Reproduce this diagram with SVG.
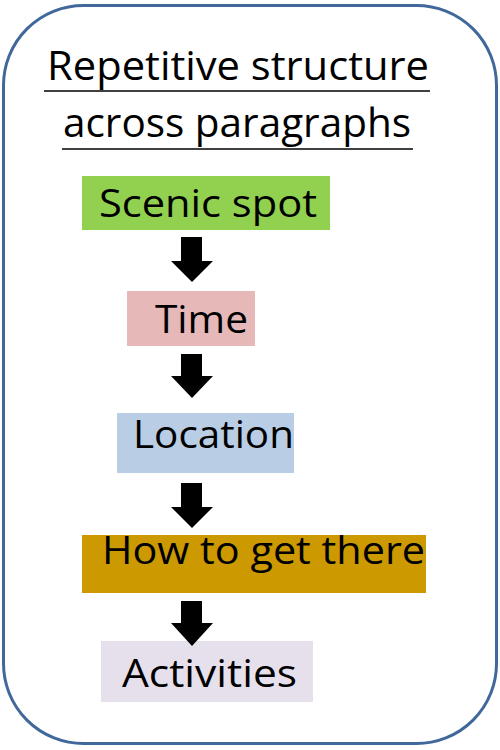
<svg xmlns="http://www.w3.org/2000/svg" width="500" height="750" viewBox="0 0 500 750">
<style>
.t{font-family:"Open Sans","Liberation Sans",sans-serif;fill:#000}
.title{font-size:41px}
.lbl{font-size:38px}
.ul{stroke:#000;stroke-width:1.6}
.arr{fill:#000}
</style>
<rect x="3.5" y="5.5" width="493" height="738" rx="80" ry="80" fill="#fff" stroke="#41689A" stroke-width="3"/>
<g id="title">
<text class="t title" x="47" y="80" textLength="382" lengthAdjust="spacingAndGlyphs">Repetitive structure</text>
<line class="ul" x1="44" y1="91" x2="430" y2="91"/>
<text class="t title" x="63" y="137" textLength="348" lengthAdjust="spacingAndGlyphs">across paragraphs</text>
<line class="ul" x1="62" y1="149" x2="413" y2="149"/>
</g>
<g id="scenic">
<rect x="82" y="176" width="248" height="54" fill="#92D050"/>
<text class="t lbl" x="99" y="217" textLength="218" lengthAdjust="spacingAndGlyphs">Scenic spot</text>
</g>
<g id="time">
<rect x="127" y="291" width="128" height="55" fill="#E6B9B8"/>
<text class="t lbl" x="155" y="333" textLength="93" lengthAdjust="spacingAndGlyphs">Time</text>
</g>
<g id="location">
<rect x="117" y="413" width="177" height="60" fill="#B9CDE5"/>
<text class="t lbl" x="133" y="448" textLength="161" lengthAdjust="spacingAndGlyphs">Location</text>
</g>
<g id="how">
<rect x="82" y="535" width="344" height="58" fill="#CC9900"/>
<text class="t lbl" x="102" y="564" textLength="323" lengthAdjust="spacingAndGlyphs">How to get there</text>
</g>
<g id="activities">
<rect x="101" y="641" width="212" height="61" fill="#E6E0EC"/>
<text class="t lbl" x="122" y="687" textLength="175" lengthAdjust="spacingAndGlyphs">Activities</text>
</g>
<g id="connectors">
<polygon class="arr" points="181,237 202,237 202,261 213,261 192,282 171,261 181,261"/>
<polygon class="arr" points="181,354 202,354 202,376 213,376 192,398 171,376 181,376"/>
<polygon class="arr" points="181,483 202,483 202,507 213,507 192,528 171,507 181,507"/>
<polygon class="arr" points="181,601 202,601 202,623 213,623 192,646 171,623 181,623"/>
</g>
</svg>
